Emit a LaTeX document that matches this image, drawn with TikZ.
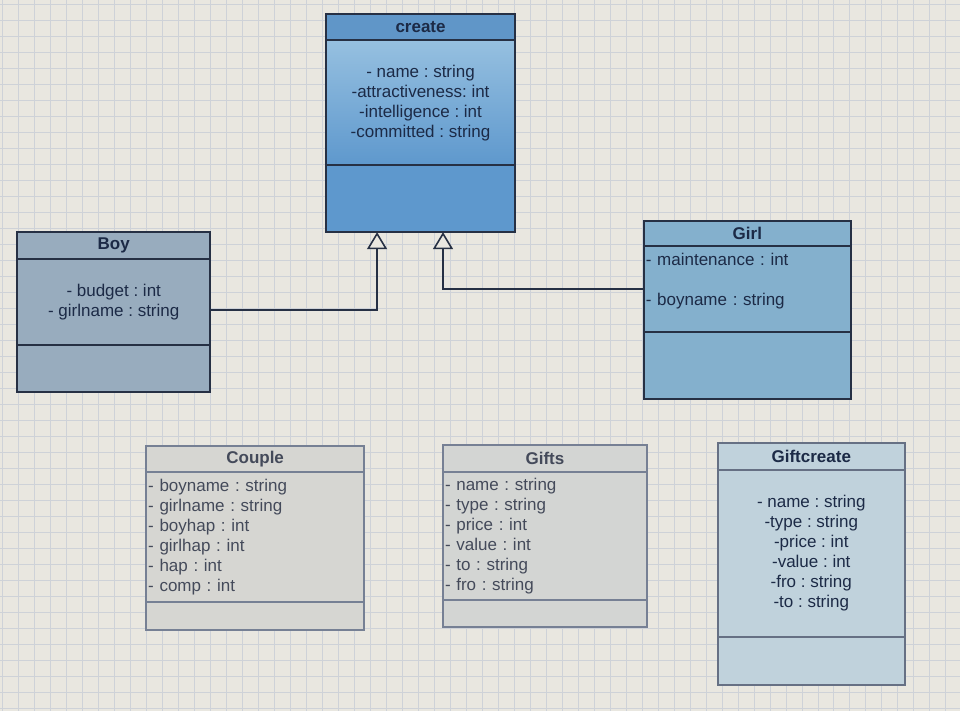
\documentclass[tikz,border=0pt]{standalone}
\usepackage{fontspec}
\setmainfont{Liberation Sans}
\usetikzlibrary{positioning,arrows.meta}
\frenchspacing

\definecolor{paper}{RGB}{233,231,224}
\definecolor{gridline}{RGB}{206,210,216}
\definecolor{darkline}{RGB}{38,48,68}
\definecolor{greyline}{RGB}{118,128,148}
\definecolor{navytext}{RGB}{28,42,70}
\definecolor{greytext}{RGB}{68,74,90}
\definecolor{createhead}{RGB}{96,150,200}
\definecolor{createtop}{RGB}{150,192,224}
\definecolor{createbot}{RGB}{94,152,205}
\definecolor{boyfill}{RGB}{152,172,190}
\definecolor{girlfill}{RGB}{132,176,205}
\definecolor{couplefill}{RGB}{214,214,210}
\definecolor{giftsfill}{RGB}{211,213,211}
\definecolor{giftcfill}{RGB}{192,210,220}

\begin{document}
\begin{tikzpicture}[x = 1pt, y = -1pt,
	font = \fontsize{17}{20}\selectfont,
	classbox/.style = {draw = darkline, line width = 1.6pt, inner sep = 2pt,
		outer sep = 0pt, text = navytext},
	classhead/.style = {classbox, font = \fontsize{17}{20}\selectfont\bfseries},
	leftlist/.style = {align = left, text width = #1},
	generalize/.style = {draw = darkline, line width = 1.6pt,
		-{Triangle[width = 20pt, length = 17pt, fill = paper]}}]

	% Paper + grid

	\fill [paper] (0, 0) rectangle (960, 711);
	\foreach \gx in {2, 18, ..., 960}
		\draw [gridline, line width = 0.6pt] (\gx, 0) -- (\gx, 711);
	\foreach \gy in {4, 20, ..., 711}
		\draw [gridline, line width = 0.6pt] (0, \gy) -- (960, \gy);

	% create

	\node [classhead, fill = createhead, anchor = north west, minimum width = 189pt, minimum height = 26pt]
		(createH) at (326, 14) {create};
	\node [classbox, top color = createtop, bottom color = createbot, minimum width = 189pt,
		minimum height = 125pt, align = center, below = 0pt of createH]
		(createA) {- name : string\\-attractiveness: int\\-intelligence : int\\-committed : string};
	\node [classbox, fill = createbot, minimum width = 189pt, minimum height = 67pt, below = 0pt of createA]
		(createO) {};

	% Boy

	\node [classhead, fill = boyfill, anchor = north west, minimum width = 193pt, minimum height = 27pt]
		(boyH) at (17, 232) {Boy};
	\node [classbox, fill = boyfill, minimum width = 193pt, minimum height = 86pt, align = center,
		below = 0pt of boyH] (boyA) {- budget : int\\- girlname : string};
	\node [classbox, fill = boyfill, minimum width = 193pt, minimum height = 47pt, below = 0pt of boyA]
		(boyO) {};

	% Girl

	\node [classhead, fill = girlfill, anchor = north west, minimum width = 207pt, minimum height = 25pt]
		(girlH) at (644, 221) {Girl};
	\node [classbox, fill = girlfill, minimum width = 207pt, minimum height = 86pt, leftlist = 203pt,
		below = 0pt of girlH] (girlA) {- maintenance : int\\[20pt]- boyname : string\\\mbox{}};
	\node [classbox, fill = girlfill, minimum width = 207pt, minimum height = 67pt, below = 0pt of girlA]
		(girlO) {};

	% Couple

	\node [classhead, draw = greyline, text = greytext, fill = couplefill, anchor = north west,
		minimum width = 218pt, minimum height = 26pt] (coupleH) at (146, 446) {Couple};
	\node [classbox, draw = greyline, text = greytext, fill = couplefill, minimum width = 218pt,
		minimum height = 130pt, leftlist = 214pt, below = 0pt of coupleH] (coupleA)
		{- boyname : string\\- girlname : string\\- boyhap : int\\- girlhap : int\\- hap : int\\- comp : int};
	\node [classbox, draw = greyline, fill = couplefill, minimum width = 218pt, minimum height = 28pt,
		below = 0pt of coupleA] (coupleO) {};

	% Gifts

	\node [classhead, draw = greyline, text = greytext, fill = giftsfill, anchor = north west,
		minimum width = 204pt, minimum height = 27pt] (giftsH) at (443, 445) {Gifts};
	\node [classbox, draw = greyline, text = greytext, fill = giftsfill, minimum width = 204pt,
		minimum height = 128pt, leftlist = 200pt, below = 0pt of giftsH] (giftsA)
		{- name : string\\- type : string\\- price : int\\- value : int\\- to : string\\- fro : string};
	\node [classbox, draw = greyline, fill = giftsfill, minimum width = 204pt, minimum height = 27pt,
		below = 0pt of giftsA] (giftsO) {};

	% Giftcreate

	\node [classhead, draw = greyline!80!darkline, fill = giftcfill, anchor = north west,
		minimum width = 187pt, minimum height = 27pt] (giftcH) at (718, 443) {Giftcreate};
	\node [classbox, draw = greyline!80!darkline, fill = giftcfill, minimum width = 187pt,
		minimum height = 167pt, align = center, below = 0pt of giftcH] (giftcA)
		{- name : string\\-type : string\\-price : int\\-value : int\\-fro : string\\-to : string};
	\node [classbox, draw = greyline!80!darkline, fill = giftcfill, minimum width = 187pt,
		minimum height = 48pt, below = 0pt of giftcA] (giftcO) {};

	% Generalizations

	\coordinate (boyJoin) at (377, 310);
	\coordinate (girlJoin) at (443, 289);
	\draw [generalize] (boyJoin -| boyA.east) -- (boyJoin) -- (boyJoin |- createO.south);
	\draw [generalize] (girlA.west) -- (girlJoin) -- (girlJoin |- createO.south);

\end{tikzpicture}
\end{document}
